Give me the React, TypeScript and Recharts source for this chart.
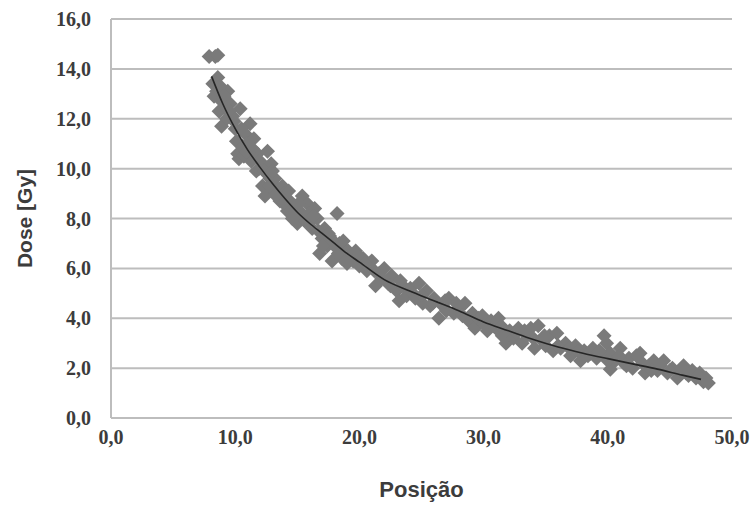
import React from "react";
import { ScatterChart, Scatter, XAxis, YAxis, CartesianGrid } from "recharts";

// measured points (Posição, Dose)
const POS = [
  7.9, 8.4, 8.6, 8.2, 8.6, 8.3, 8.5, 8.7, 8.9, 9.0,
  9.2, 9.4, 8.9, 9.3, 9.6, 9.8, 10.0, 10.1, 10.2, 10.4,
  10.3, 10.6, 10.8, 10.7, 11.0, 11.2, 11.3, 11.5, 11.7, 11.8,
  12.0, 12.2, 12.4, 12.5, 12.6, 12.8, 12.9, 13.1, 13.2, 13.4,
  13.6, 13.8, 14.0, 14.2, 14.4, 14.6, 14.8, 15.0, 15.2, 15.4,
  15.6, 15.8, 16.0, 16.2, 16.4, 16.6, 16.8, 17.0, 17.2, 17.4,
  17.6, 17.8, 18.0, 18.2, 18.4, 18.6, 18.8, 19.0, 19.3, 19.7,
  20.0, 20.3, 20.6, 21.0, 21.3, 21.6, 22.0, 22.3, 22.6, 23.0,
  23.2, 23.5, 23.8, 24.1, 24.5, 24.8, 25.1, 25.4, 25.7, 26.0,
  26.4, 26.7, 27.0, 27.2, 27.6, 28.0, 28.5, 28.8, 29.1, 29.3,
  29.6, 30.0, 30.3, 30.6, 31.0, 31.2, 31.5, 31.8, 32.1, 32.4,
  32.8, 33.1, 33.5, 33.8, 34.1, 34.4, 34.7, 35.0, 35.3, 35.6,
  35.9, 36.2, 36.6, 37.0, 37.4, 37.8, 38.1, 38.4, 38.8, 39.1,
  39.5, 39.7, 39.9, 40.2, 40.2, 40.6, 41.0, 41.3, 41.7, 42.0,
  42.3, 42.6, 43.0, 43.3, 43.7, 44.0, 44.5, 44.8, 45.2, 45.6,
  45.8, 46.1, 46.5, 46.8, 47.1, 47.4, 47.7, 48.1,
  8.8, 9.1, 9.5, 9.9, 10.5, 10.9, 11.4, 11.9, 12.3, 12.7,
  13.0, 13.5, 13.9, 14.3, 14.7, 15.1, 15.5, 15.9, 16.3, 16.7,
  17.1, 17.5, 17.9, 18.3, 18.7, 19.1, 19.5, 19.9, 20.5, 21.2,
  21.8, 22.5, 23.3, 24.3, 25.0, 25.9, 26.9, 27.8, 28.3, 29.9,
  30.8, 31.4, 32.6, 33.3, 34.0, 34.9, 36.0, 36.9, 37.6, 38.6,
  39.3, 40.0, 40.9, 41.5, 42.8, 43.5, 44.2, 45.0, 46.3, 47.2,
  47.9,
];

const DOSE = [
  14.5, 14.5, 14.55, 13.4, 13.65, 12.9, 13.1, 12.3, 12.7, 13.0,
  12.4, 13.1, 11.7, 12.0, 12.6, 12.1, 11.6, 11.1, 10.6, 12.4,
  10.4, 10.9, 11.4, 10.5, 11.0, 11.8, 10.3, 11.2, 9.9, 10.6,
  10.3, 9.3, 8.9, 10.0, 10.7, 9.6, 10.2, 9.0, 9.6, 9.2,
  8.7, 9.3, 9.0, 8.3, 8.7, 8.0, 8.5, 7.8, 8.3, 8.9,
  7.9, 8.6, 8.2, 7.6, 8.4, 8.0, 6.6, 7.2, 7.6, 6.9,
  7.3, 6.3, 6.9, 8.2, 7.0, 6.4, 6.8, 6.2, 6.5, 6.7,
  6.1, 6.4, 5.9, 6.3, 5.3, 5.8, 6.0, 5.4, 5.7, 5.1,
  4.7, 5.3, 4.9, 5.2, 4.8, 5.4, 4.6, 5.1, 4.5, 4.8,
  4.0, 4.5, 4.3, 4.8, 4.2, 4.4, 4.6, 3.9, 4.2, 3.6,
  4.0, 3.8, 3.5, 3.9, 3.6, 4.0, 3.3, 3.0, 3.5, 3.2,
  3.6, 3.0, 3.3, 3.6, 2.8, 3.7, 3.1, 2.9, 3.3, 2.7,
  3.4, 2.8, 3.0, 2.5, 2.9, 2.3, 2.7, 2.5, 2.8, 2.4,
  2.6, 3.3, 3.0, 2.6, 1.95, 2.3, 2.8, 2.2, 2.4, 2.0,
  2.5, 2.6, 1.8, 2.1, 2.3, 1.9, 2.3, 1.8, 2.0, 1.6,
  1.9, 2.1, 1.7, 1.9, 1.6, 1.8, 1.45, 1.4,
  13.3, 12.9, 12.3, 11.9, 11.6, 10.7, 10.8, 10.0, 9.9, 9.3,
  9.9, 8.9, 8.6, 9.1, 8.2, 8.6, 8.1, 7.8, 8.1, 7.5,
  6.9, 7.4, 7.1, 6.6, 7.1, 6.7, 6.3, 6.5, 6.2, 5.9,
  5.6, 5.3, 5.5, 5.0, 4.9, 4.6, 4.7, 4.6, 4.1, 4.1,
  3.7, 3.7, 3.4, 3.5, 3.2, 3.3, 2.9, 2.8, 2.7, 2.6,
  2.7, 2.3, 2.5, 2.1, 2.2, 1.9, 2.1, 1.9, 1.8, 1.7,
  1.6,
];

// trend line
const TREND_X = [8.1, 9, 10, 11, 12, 13, 14, 15, 16, 17, 18, 19, 20, 22, 24, 26, 28, 30, 32, 34, 36, 38, 40, 42, 44, 46, 47.5];
const TREND_Y = [13.7, 12.6, 11.6, 10.75, 10.05, 9.4, 8.8, 8.25, 7.8, 7.4, 7.0, 6.6, 6.25, 5.55, 5.1, 4.7, 4.3, 3.85, 3.5, 3.15, 2.85, 2.6, 2.38, 2.17, 1.96, 1.72, 1.55];

const X_TICKS = [0, 10, 20, 30, 40, 50];
const Y_TICKS = [0, 2, 4, 6, 8, 10, 12, 14, 16];

const points = POS.map((x, i) => ({ x, y: DOSE[i] }));
const trend = TREND_X.map((x, i) => ({ x, y: TREND_Y[i] }));

const fmt = (v: number) => v.toFixed(1).replace(".", ",");

const Diamond = (props: any) => {
  const { cx, cy } = props;
  const r = 7.5;
  return (
    <polygon
      points={`${cx},${cy - r} ${cx + r},${cy} ${cx},${cy + r} ${cx - r},${cy}`}
      fill="#7a7a7a"
    />
  );
};

const tickStyle = { fontFamily: "'Liberation Serif', serif", fontWeight: 700, fontSize: 20, fill: "#3c3c3c" };

export default function App() {
  return (
    <div style={{ position: "absolute", left: 0, top: 0, background: "#fff" }}>
      <ScatterChart width={753} height={506} margin={{ top: 19, right: 21, left: 0, bottom: 0 }}>
        <CartesianGrid horizontal vertical={false} stroke="#bdbdbd" strokeWidth={2} />
        <XAxis
          type="number"
          dataKey="x"
          domain={[0, 50]}
          ticks={X_TICKS}
          tickFormatter={fmt}
          tick={tickStyle}
          tickLine={false}
          axisLine={{ stroke: "#bdbdbd", strokeWidth: 2 }}
          tickMargin={6}
          height={88}
          label={{
            content: (p: any) => {
              const vb = p.viewBox;
              return (
                <text
                  x={vb.x + vb.width / 2}
                  y={vb.y + vb.height - 9}
                  textAnchor="middle"
                  style={{ fontFamily: "'Liberation Sans', sans-serif", fontWeight: 700, fontSize: 22, fill: "#3c3c3c" }}
                >
                  Posição
                </text>
              );
            },
          }}
        />
        <YAxis
          type="number"
          dataKey="y"
          domain={[0, 16]}
          ticks={Y_TICKS}
          tickFormatter={fmt}
          tick={tickStyle}
          tickLine={false}
          axisLine={{ stroke: "#bdbdbd", strokeWidth: 2 }}
          tickMargin={14}
          width={111}
          label={{
            content: (p: any) => {
              const vb = p.viewBox;
              const cx = vb.x + 24;
              const cy = vb.y + vb.height / 2;
              return (
                <text
                  x={cx}
                  y={cy}
                  transform={`rotate(-90, ${cx}, ${cy})`}
                  textAnchor="middle"
                  dominantBaseline="central"
                  style={{ fontFamily: "'Liberation Sans', sans-serif", fontWeight: 700, fontSize: 21, fill: "#3c3c3c" }}
                >
                  Dose [Gy]
                </text>
              );
            },
          }}
        />
        <Scatter data={points} shape={<Diamond />} isAnimationActive={false} />
        <Scatter
          data={trend}
          line={{ stroke: "#262626", strokeWidth: 1.6 }}
          lineJointType="monotoneX"
          shape={() => null}
          isAnimationActive={false}
        />
      </ScatterChart>
    </div>
  );
}
